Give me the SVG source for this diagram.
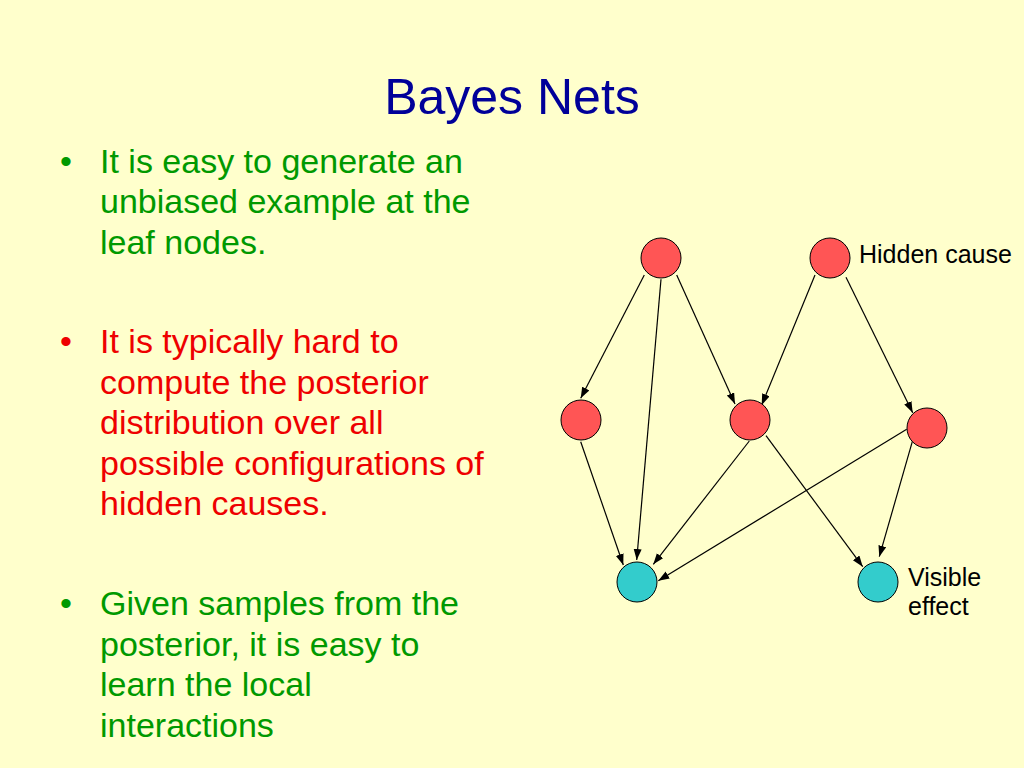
<svg xmlns="http://www.w3.org/2000/svg" width="1024" height="768" viewBox="0 0 1024 768">
<defs>
<style>
.bg{fill:#FFFFCC}
.title{font-family:"Liberation Sans",Arial,sans-serif;font-size:50px;fill:#000099;text-anchor:middle}
.body{font-family:"Liberation Sans",Arial,sans-serif;font-size:34px}
.g{fill:#009900}
.r{fill:#EE0000}
.lbl{font-family:"Liberation Sans",Arial,sans-serif;font-size:25px;fill:#000000}
.hid{fill:#FF5555;stroke:#000000;stroke-width:1}
.vis{fill:#33CCCC;stroke:#000000;stroke-width:1}
.edge{stroke:#000000;stroke-width:1.2;fill:none;marker-end:url(#arr)}
</style>
<marker id="arr" markerUnits="userSpaceOnUse" markerWidth="12" markerHeight="10" refX="11" refY="4" orient="auto">
<path d="M0,0 L11,4 L0,8 z" fill="#000000"/>
</marker>
</defs>
<rect class="bg" x="0" y="0" width="1024" height="768"/>
<text class="title" x="512" y="114">Bayes Nets</text>
<g id="bullets" class="body">
<g class="g">
<text x="60" y="173">•</text>
<text x="100" y="173">It is easy to generate an</text>
<text x="100" y="213">unbiased example at the</text>
<text x="100" y="254">leaf nodes.</text>
</g>
<g class="r">
<text x="60" y="353">•</text>
<text x="100" y="353">It is typically hard to</text>
<text x="100" y="394">compute the posterior</text>
<text x="100" y="434">distribution over all</text>
<text x="100" y="475">possible configurations of</text>
<text x="100" y="515">hidden causes.</text>
</g>
<g class="g">
<text x="60" y="615">•</text>
<text x="100" y="615">Given samples from the</text>
<text x="100" y="656">posterior, it is easy to</text>
<text x="100" y="696">learn the local</text>
<text x="100" y="737">interactions</text>
</g>
</g>
<g id="connectors">
<line class="edge" x1="644.3" y1="275" x2="580.7" y2="398.3"/>
<line class="edge" x1="661" y1="279.3" x2="636.7" y2="560"/>
<line class="edge" x1="676.7" y1="275" x2="735" y2="404"/>
<line class="edge" x1="815" y1="275" x2="761.7" y2="405"/>
<line class="edge" x1="846" y1="277.3" x2="912.7" y2="412.7"/>
<line class="edge" x1="580.7" y1="441.7" x2="623.3" y2="565"/>
<line class="edge" x1="749.3" y1="441" x2="653.3" y2="564.3"/>
<line class="edge" x1="766" y1="435.7" x2="862.7" y2="566.7"/>
<line class="edge" x1="906.7" y1="429.3" x2="658.3" y2="580.7"/>
<line class="edge" x1="912.3" y1="441.7" x2="879.3" y2="556.7"/>
</g>
<g id="nodeA"><circle class="hid" cx="661" cy="258" r="20"/></g>
<g id="nodeB"><circle class="hid" cx="830" cy="258" r="20"/><text class="lbl" x="859" y="263">Hidden cause</text></g>
<g id="nodeC"><circle class="hid" cx="581" cy="420" r="20"/></g>
<g id="nodeD"><circle class="hid" cx="750" cy="420" r="20"/></g>
<g id="nodeE"><circle class="hid" cx="927" cy="428" r="20"/></g>
<g id="nodeF"><circle class="vis" cx="637" cy="582" r="20"/></g>
<g id="nodeG"><circle class="vis" cx="878" cy="582" r="20"/><text class="lbl" x="908" y="586">Visible</text><text class="lbl" x="908" y="615">effect</text></g>
</svg>
